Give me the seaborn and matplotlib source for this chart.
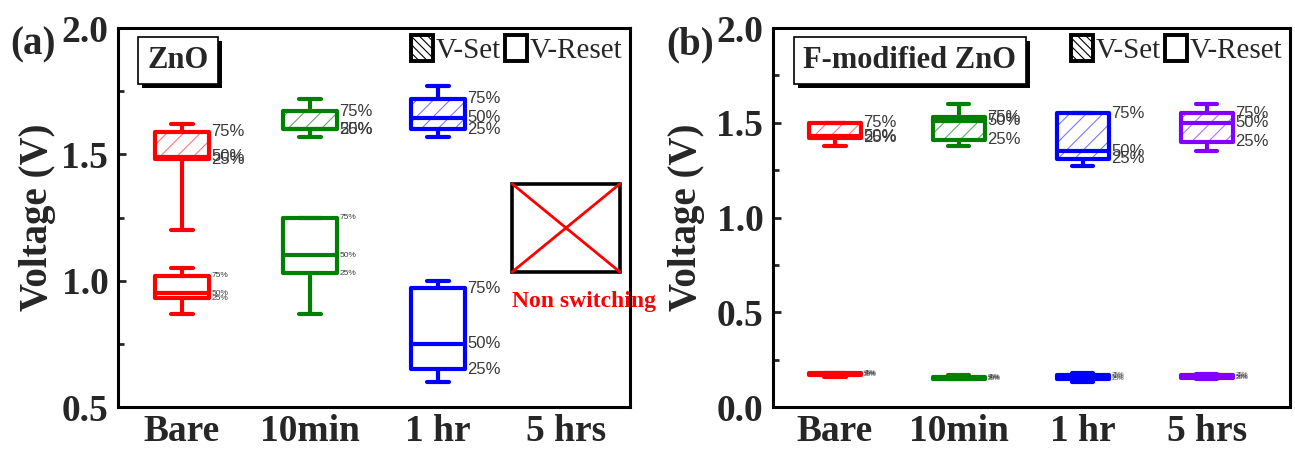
import numpy as np
import pandas as pd
import matplotlib
matplotlib.use("Agg")
import matplotlib.pyplot as plt
import seaborn as sns
from matplotlib.patches import PathPatch, Patch, Rectangle
from matplotlib import patheffects as pe
from matplotlib.ticker import MultipleLocator

# ---------------- data ----------------
categories = ["Bare", "10min", "1 hr", "5 hrs"]
box_colors = ["#ff0000", "#008000", "#0000ff", "#8000ff"]
hatch_colors = ["#ff7a7a", "#5fae5f", "#7a7aff", "#b070ff"]

# ZnO: five-number summaries (min, Q1, median, Q3, max); 5 hrs does not switch
zno_cats = ["Bare", "10min", "1 hr"]
zno_set_min = [1.20, 1.57, 1.57]
zno_set_q1 = [1.48, 1.60, 1.60]
zno_set_med = [1.49, 1.60, 1.645]
zno_set_q3 = [1.59, 1.67, 1.72]
zno_set_max = [1.62, 1.72, 1.77]

zno_reset_min = [0.87, 0.87, 0.60]
zno_reset_q1 = [0.93, 1.03, 0.65]
zno_reset_med = [0.95, 1.10, 0.75]
zno_reset_q3 = [1.02, 1.25, 0.97]
zno_reset_max = [1.05, 1.25, 1.00]

# F-modified ZnO
fzno_cats = ["Bare", "10min", "1 hr", "5 hrs"]
fzno_set_min = [1.38, 1.38, 1.27, 1.35]
fzno_set_q1 = [1.42, 1.41, 1.31, 1.40]
fzno_set_med = [1.43, 1.51, 1.35, 1.50]
fzno_set_q3 = [1.50, 1.53, 1.55, 1.55]
fzno_set_max = [1.50, 1.60, 1.55, 1.60]

fzno_reset_min = [0.16, 0.15, 0.13, 0.15]
fzno_reset_q1 = [0.17, 0.15, 0.15, 0.155]
fzno_reset_med = [0.175, 0.155, 0.16, 0.16]
fzno_reset_q3 = [0.18, 0.16, 0.17, 0.17]
fzno_reset_max = [0.18, 0.17, 0.18, 0.175]

pct_labels = ["75%", "50%", "25%"]

# ---------------- style ----------------
sns.set_theme(style="ticks")
plt.rcParams["font.family"] = ["Liberation Serif", "DejaVu Serif"]
plt.rcParams["hatch.linewidth"] = 0.8
plt.rcParams["axes.linewidth"] = 2.2

BOX_W = 0.42
CAP_W = 0.17
LW = 3.0


def long_frame(cats, mins, q1s, meds, q3s, maxs):
    rows = []
    for c, *vals in zip(cats, mins, q1s, meds, q3s, maxs):
        for v in vals:
            rows.append({"cat": c, "V": v})
    return pd.DataFrame(rows)


def draw_boxes(ax, df, hatched):
    n_p, n_l = len(ax.patches), len(ax.lines)
    sns.boxplot(data=df, x="cat", y="V", hue="cat", order=categories,
                hue_order=categories, palette=dict(zip(categories, box_colors)),
                width=BOX_W, whis=(0, 100), linewidth=LW, capwidths=CAP_W,
                dodge=False, legend=False, ax=ax)
    for p in list(ax.patches[n_p:]):
        xs = p.get_path().vertices[:, 0]
        i = int(round((xs.min() + xs.max()) / 2))
        p.set_edgecolor(box_colors[i])
        p.set_linewidth(LW)
        p.set_joinstyle("round")
        if hatched:
            p.set_facecolor("none")
            back = PathPatch(p.get_path(), transform=p.get_transform(),
                             facecolor="white", edgecolor=hatch_colors[i],
                             hatch="//", linewidth=0, zorder=p.get_zorder() - 0.05)
            ax.add_patch(back)
        else:
            p.set_facecolor("white")
    for ln in ax.lines[n_l:]:
        xd = np.asarray(ln.get_xdata(), dtype=float)
        if xd.size == 0:
            continue
        i = int(round(xd.mean()))
        ln.set_color(box_colors[i])
        ln.set_linewidth(LW)


def percent_labels(ax, cats, q1s, meds, q3s, sizes):
    for c, q1, md, q3, fs in zip(cats, q1s, meds, q3s, sizes):
        x = categories.index(c) + BOX_W / 2 + 0.02
        for lab, v in zip(pct_labels, (q3, md, q1)):
            ax.text(x, v, lab, ha="left", va="center", fontsize=fs,
                    family=["Liberation Sans", "DejaVu Sans"], color="#3a3a3a",
                    zorder=4)


def style_axes(ax, ylo, xhi, labelpad):
    ax.set_ylim(ylo, 2.0)
    ax.set_xlim(-0.5, xhi)
    ax.yaxis.set_major_locator(MultipleLocator(0.5))
    ax.yaxis.set_minor_locator(MultipleLocator(0.25))
    ax.yaxis.set_major_formatter(matplotlib.ticker.FormatStrFormatter("%.1f"))
    ax.tick_params(axis="y", which="major", direction="in", length=6, width=2,
                   labelsize=27, pad=7, left=True, right=False)
    ax.tick_params(axis="y", which="minor", direction="in", length=4, width=2,
                   left=True, right=False)
    ax.tick_params(axis="x", length=0, labelsize=27, pad=5)
    for lab in ax.get_xticklabels() + ax.get_yticklabels():
        lab.set_fontweight("bold")
    ax.set_xlabel("")
    ax.set_ylabel("Voltage (V)", fontsize=28, fontweight="bold", labelpad=labelpad)
    for s in ax.spines.values():
        s.set_linewidth(2.2)
        s.set_color("black")
        s.set_visible(True)


def title_box(ax, x, text):
    t = ax.text(x, 0.915, text, transform=ax.transAxes, ha="center", va="center",
                fontsize=22, fontweight="bold", zorder=6,
                bbox=dict(boxstyle="square,pad=0.3", fc="white", ec="black", lw=1.2))
    t.get_bbox_patch().set_path_effects(
        [pe.SimplePatchShadow(offset=(3, -3), shadow_rgbFace="black", alpha=1.0),
         pe.Normal()])


def legend(ax):
    handles = [Patch(facecolor="white", edgecolor="black", hatch="\\\\\\\\",
                     linewidth=2.8, label="V-Set"),
               Patch(facecolor="white", edgecolor="black", linewidth=2.8,
                     label="V-Reset")]
    ax.legend(handles=handles, loc="upper right", ncol=2, frameon=False,
              fontsize=21, handlelength=0.75, handleheight=1.0,
              handletextpad=0.1, columnspacing=0.15, borderaxespad=0.15,
              borderpad=0.1)


fig = plt.figure(figsize=(12.95, 4.53), dpi=100)
ax_a = fig.add_axes([0.0911, 0.1015, 0.3954, 0.8366])
ax_b = fig.add_axes([0.5969, 0.1015, 0.3992, 0.8366])

# ---- (a) ZnO ----
draw_boxes(ax_a, long_frame(zno_cats, zno_set_min, zno_set_q1, zno_set_med,
                            zno_set_q3, zno_set_max), hatched=True)
draw_boxes(ax_a, long_frame(zno_cats, zno_reset_min, zno_reset_q1, zno_reset_med,
                            zno_reset_q3, zno_reset_max), hatched=False)
percent_labels(ax_a, zno_cats, zno_set_q1, zno_set_med, zno_set_q3, [12, 12, 12])
percent_labels(ax_a, zno_cats, zno_reset_q1, zno_reset_med, zno_reset_q3, [6, 6, 12])

# non-switching marker for the 5 hrs sample
ns_pos = categories.index("5 hrs")
ns_half, ns_lo, ns_hi = 0.42, 1.035, 1.383
ax_a.add_patch(Rectangle((ns_pos - ns_half, ns_lo), 2 * ns_half, ns_hi - ns_lo,
                         facecolor="none", edgecolor="black", lw=2.6, zorder=3))
ax_a.plot([ns_pos - ns_half, ns_pos + ns_half], [ns_lo, ns_hi], color="red", lw=2, zorder=3)
ax_a.plot([ns_pos - ns_half, ns_pos + ns_half], [ns_hi, ns_lo], color="red", lw=2, zorder=3)
ax_a.text(ns_pos - ns_half, 0.917, "Non switching", color="red", fontsize=17,
          fontweight="bold", ha="left", va="center", clip_on=False, zorder=2)

style_axes(ax_a, 0.5, 3.5, 4)
title_box(ax_a, 0.117, "ZnO")
legend(ax_a)

# ---- (b) F-modified ZnO ----
draw_boxes(ax_b, long_frame(fzno_cats, fzno_set_min, fzno_set_q1, fzno_set_med,
                            fzno_set_q3, fzno_set_max), hatched=True)
draw_boxes(ax_b, long_frame(fzno_cats, fzno_reset_min, fzno_reset_q1, fzno_reset_med,
                            fzno_reset_q3, fzno_reset_max), hatched=False)
percent_labels(ax_b, fzno_cats, fzno_set_q1, fzno_set_med, fzno_set_q3, [12] * 4)
percent_labels(ax_b, fzno_cats, fzno_reset_q1, fzno_reset_med, fzno_reset_q3, [4.5] * 4)

style_axes(ax_b, 0.0, 3.67, 8)
title_box(ax_b, 0.265, "F-modified ZnO")
legend(ax_b)

fig.text(0.0255, 0.90, "(a)", fontsize=28, fontweight="bold", ha="center", va="center")
fig.text(0.533, 0.90, "(b)", fontsize=28, fontweight="bold", ha="center", va="center")

fig.savefig("out.png", dpi=100)
